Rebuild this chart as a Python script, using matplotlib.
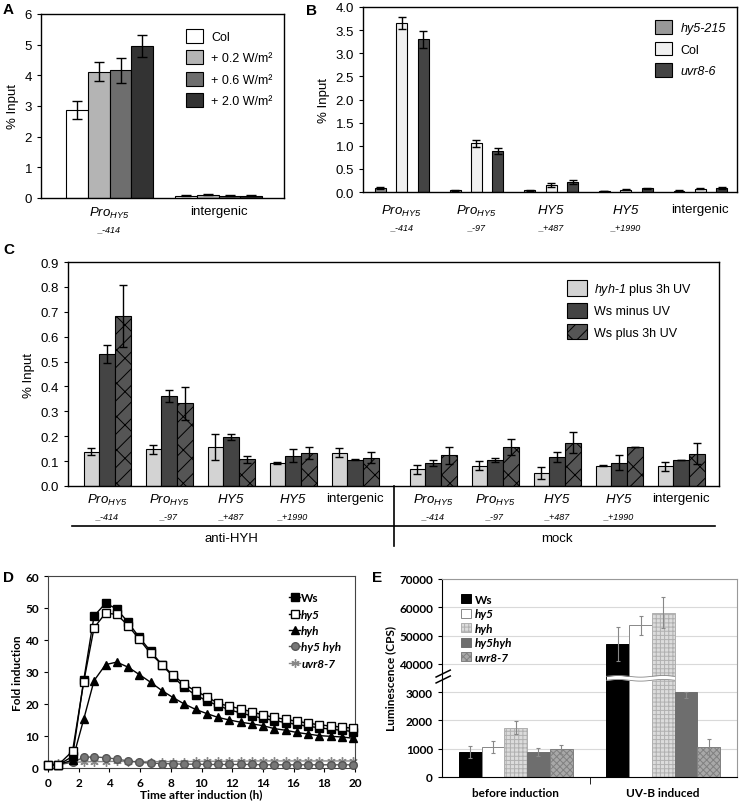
import matplotlib
matplotlib.use("Agg")
import matplotlib.pyplot as plt
import numpy as np

plt.rcParams["font.family"] = ["Liberation Sans", "DejaVu Sans"]
plt.rcParams["mathtext.fontset"] = "custom"
plt.rcParams["mathtext.rm"] = "Liberation Sans:italic"
plt.rcParams["mathtext.it"] = "Liberation Sans:italic"
plt.rcParams["mathtext.bf"] = "Liberation Sans:bold"
plt.rcParams["hatch.linewidth"] = 0.7

PRO = r"$\mathit{Pro}_{\mathit{HY5}}$"
HY5 = r"$\mathit{HY5}$"

# ── Panel A ──
a_sites = [PRO, "intergenic"]
a_subs = ["_-414", ""]
a_series = ["Col", "+ 0.2 W/m²", "+ 0.6 W/m²", "+ 2.0 W/m²"]
a_vals = [[2.87, 0.08], [4.12, 0.11], [4.16, 0.08], [4.95, 0.08]]
a_err = [[0.30, 0.01], [0.30, 0.015], [0.42, 0.012], [0.36, 0.012]]

# ── Panel B ──
b_sites = [PRO, PRO, HY5, HY5, "intergenic"]
b_subs = ["_-414", "_-97", "_+487", "_+1990", ""]
b_series = ["hy5-215", "Col", "uvr8-6"]
b_vals = [[0.09, 0.04, 0.035, 0.02, 0.03],
          [3.66, 1.05, 0.15, 0.05, 0.07],
          [3.30, 0.89, 0.21, 0.08, 0.085]]
b_err = [[0.02, 0.01, 0.015, 0.005, 0.005],
         [0.13, 0.07, 0.05, 0.01, 0.01],
         [0.18, 0.07, 0.04, 0.015, 0.015]]

# ── Panel C ──
c_sites = b_sites + b_sites
c_subs = b_subs + b_subs
c_groups = ["anti-HYH", "mock"]
c_series = [r"$\mathit{hyh}$-$\mathit{1}$ plus 3h UV", "Ws minus UV", "Ws plus 3h UV"]
c_vals = [[0.137, 0.148, 0.158, 0.092, 0.133, 0.067, 0.082, 0.051, 0.082, 0.080],
          [0.530, 0.362, 0.195, 0.122, 0.105, 0.091, 0.103, 0.118, 0.094, 0.103],
          [0.683, 0.333, 0.108, 0.133, 0.113, 0.123, 0.158, 0.174, 0.158, 0.130]]
c_err = [[0.014, 0.018, 0.052, 0.003, 0.018, 0.018, 0.017, 0.024, 0.002, 0.018],
         [0.036, 0.025, 0.012, 0.027, 0.002, 0.012, 0.008, 0.020, 0.030, 0.0],
         [0.123, 0.066, 0.014, 0.024, 0.022, 0.035, 0.032, 0.043, 0.0, 0.043]]

# ── Panel D ──
d_time = [0, 0.67, 1.6, 2.33, 3.0, 3.75, 4.48, 5.22, 5.95, 6.68, 7.42, 8.15, 8.88, 9.62,
          10.35, 11.08, 11.82, 12.55, 13.28, 14.02, 14.75, 15.48, 16.22, 16.95, 17.68,
          18.42, 19.15, 19.88]
d_ws = [1.0, 1.0, 3.6, 27.5, 47.5, 51.5, 49.7, 45.5, 40.8, 36.5, 32.3, 28.5, 25.2, 22.8,
        21.0, 19.5, 18.2, 17.2, 16.3, 15.5, 14.8, 14.2, 13.6, 13.0, 12.6, 12.1, 11.8, 11.4]
d_hy5 = [1.0, 1.0, 5.3, 27.0, 43.8, 48.4, 48.0, 44.5, 40.2, 35.8, 32.3, 29.0, 26.2, 24.0,
         22.3, 20.2, 19.3, 18.5, 17.5, 16.6, 15.8, 15.2, 14.6, 14.0, 13.5, 13.1, 12.8, 12.4]
d_hyh = [1.0, 1.0, 2.5, 15.3, 27.3, 32.3, 33.1, 31.5, 29.2, 26.8, 24.2, 22.0, 20.0, 18.3,
         17.0, 15.8, 15.0, 14.3, 13.8, 13.2, 12.3, 11.8, 11.1, 10.6, 10.1, 9.9, 9.7, 9.3]
d_hy5hyh = [1.0, 1.0, 1.8, 3.3, 3.5, 3.2, 2.8, 2.2, 1.8, 1.5, 1.4, 1.3, 1.2, 1.2,
            1.1, 1.1, 1.1, 1.1, 1.1, 1.0, 1.0, 1.0, 1.0, 1.0, 1.0, 1.0, 1.0, 1.0]
d_uvr8 = [1.0, 1.5, 1.8, 1.9, 2.0, 2.0, 2.1, 2.0, 2.0, 2.0, 2.0, 2.0, 2.0, 2.1,
          2.1, 2.1, 2.1, 2.1, 2.2, 2.2, 2.2, 2.2, 2.2, 2.2, 2.2, 2.2, 2.2, 2.2]

# ── Panel E ──
e_groups = ["before induction", "UV-B induced"]
e_series = ["Ws", "hy5", "hyh", "hy5hyh", "uvr8-7"]
e_vals = [[893, 47000], [1070, 53600], [1750, 58100], [880, 3030], [975, 1070]]
e_err = [[210, 6100], [210, 3300], [240, 5500], [130, 250], [170, 290]]
e_ticks = [0, 1000, 2000, 3000, 40000, 50000, 60000, 70000]

W, H = 740, 804
fig = plt.figure(figsize=(W / 100, H / 100), dpi=100)

FS = 9.5  # tick text in A-C
LF = 9    # legend text in A-C


def rect(x0, y0, x1, y1):
    return [x0 / W, 1 - y1 / H, (x1 - x0) / W, (y1 - y0) / H]


def site_labels(ax, xs, sites, subs, pad, sub_off):
    ax.set_xticks(xs, labels=sites)
    ax.tick_params(axis="x", length=0, pad=pad, labelsize=FS)
    for x, s in zip(xs, subs):
        if s:
            ax.annotate(s, xy=(x, 0), xycoords=ax.get_xaxis_transform(),
                        xytext=(0, sub_off), textcoords="offset points",
                        ha="center", va="center", fontsize=6.5, style="italic")


def box(ax):
    for s in ax.spines.values():
        s.set_linewidth(1.0)
    ax.tick_params(axis="y", direction="out", length=3, labelsize=FS)


# ── A ──
ax = fig.add_axes(rect(41, 15, 284, 199))
xa = np.arange(len(a_sites))
wa = 0.2
a_cols = ["#ffffff", "#b4b4b4", "#6e6e6e", "#333333"]
for i, name in enumerate(a_series):
    xx = xa + (i - 1.5) * wa
    ax.bar(xx, a_vals[i], wa, color=a_cols[i], edgecolor="black", lw=0.8, label=name)
    ax.errorbar(xx, a_vals[i], yerr=a_err[i], fmt="none", ecolor="black",
                elinewidth=1, capsize=3.5, capthick=1)
ax.set_xlim(-0.63, 1.6)
ax.set_ylim(0, 6)
ax.set_yticks(range(7))
ax.set_ylabel("% Input", fontsize=FS)
box(ax)
site_labels(ax, xa, a_sites, a_subs, 5, -22)
ax.legend(loc="upper right", frameon=False, fontsize=LF, handlelength=1.3,
          handleheight=1.3, labelspacing=0.6, handletextpad=0.7,
          bbox_to_anchor=(1.0, 0.98))

# ── B ──
ax = fig.add_axes(rect(363, 8, 737, 193))
xb = np.arange(len(b_sites))
b_cols = ["#999999", "#f0f0f0", "#444444"]
for i, name in enumerate(b_series):
    xx = xb + (i - 1) * 0.287
    ax.bar(xx, b_vals[i], 0.147, color=b_cols[i], edgecolor="black", lw=0.8, label=name)
    ax.errorbar(xx, b_vals[i], yerr=b_err[i], fmt="none", ecolor="black",
                elinewidth=1, capsize=3, capthick=1)
ax.set_xlim(-0.52, 4.49)
ax.set_ylim(0, 4.0)
ax.set_yticks(np.arange(0, 4.01, 0.5))
ax.yaxis.set_major_formatter(matplotlib.ticker.FormatStrFormatter("%.1f"))
ax.set_ylabel("% Input", fontsize=FS)
box(ax)
site_labels(ax, xb, b_sites, b_subs, 8, -25)
leg = ax.legend(loc="upper right", frameon=False, fontsize=LF, handlelength=1.3,
                handleheight=1.3, labelspacing=0.6, handletextpad=0.7,
                bbox_to_anchor=(1.0, 0.99))
leg.get_texts()[0].set_style("italic")
leg.get_texts()[2].set_style("italic")

# ── C ──
ax = fig.add_axes(rect(68, 263, 719, 487))
xc = np.concatenate([np.arange(5), np.arange(5) + 5.26])
wc = 0.253
c_cols = ["#d3d3d3", "#444444", "#555555"]
c_hatch = [None, None, "//\\"]
for i, name in enumerate(c_series):
    xx = xc + (i - 1) * wc
    ax.bar(xx, c_vals[i], wc, color=c_cols[i], edgecolor="black", lw=0.8,
           hatch=c_hatch[i], label=name)
    ax.errorbar(xx, c_vals[i], yerr=c_err[i], fmt="none", ecolor="black",
                elinewidth=1, capsize=3, capthick=1)
ax.set_xlim(-0.63, 9.87)
ax.set_ylim(0, 0.9)
ax.set_yticks(np.arange(0, 0.91, 0.1))
ax.yaxis.set_major_formatter(matplotlib.ticker.FormatStrFormatter("%.1f"))
ax.set_ylabel("% Input", fontsize=FS)
box(ax)
site_labels(ax, xc, c_sites, c_subs, 4, -21.5)
leg = ax.legend(loc="upper right", frameon=False, fontsize=LF, handlelength=1.6,
                handleheight=1.55, labelspacing=0.45, handletextpad=0.5,
                bbox_to_anchor=(0.975, 0.97))
trans = ax.get_xaxis_transform()
sep = (xc[4] + xc[5]) / 2
ax.plot([-0.565, 9.81], [-0.179, -0.179], color="black", lw=1.2,
        transform=trans, clip_on=False)
ax.plot([sep, sep], [0, -0.268], color="black", lw=1.2, transform=trans, clip_on=False)
ax.text(np.mean(xc[:5]), -0.232, c_groups[0], transform=trans, ha="center",
        va="center", fontsize=FS)
ax.text(np.mean(xc[5:]), -0.232, c_groups[1], transform=trans, ha="center",
        va="center", fontsize=FS)

# ── D ──
bold = {"family": ["Lato", "DejaVu Sans"], "weight": "bold"}
BF = 8.5
ax = fig.add_axes(rect(48, 577, 355, 769))
ax.plot(d_time, d_uvr8, color="#888888", lw=1, marker=(6, 2, 0), ms=6,
        mec="#888888", label="uvr8-7", clip_on=False, zorder=2)
ax.plot(d_time, d_hy5hyh, color="#555555", lw=1, marker="o", ms=5.5,
        mfc="#777777", mec="#555555", label="hy5 hyh", clip_on=False, zorder=3)
ax.plot(d_time, d_hyh, color="black", lw=1, marker="^", ms=5.5,
        label="hyh", clip_on=False, zorder=4)
ax.plot(d_time, d_ws, color="black", lw=1, marker="s", ms=5.5,
        label="Ws", clip_on=False, zorder=5)
ax.plot(d_time, d_hy5, color="black", lw=1, marker="s", ms=6,
        mfc="white", mec="black", label="hy5", clip_on=False, zorder=6)
ax.set_xlim(0, 20)
ax.set_ylim(0, 60)
ax.set_xticks(range(0, 21, 2))
ax.set_yticks(range(0, 61, 10))
ax.tick_params(direction="out", length=3)
for t in ax.get_xticklabels() + ax.get_yticklabels():
    t.set_fontproperties(matplotlib.font_manager.FontProperties(size=BF, **bold))
ax.set_xlabel("Time after induction (h)", fontsize=BF, labelpad=0, **bold)
ax.set_ylabel("Fold induction", fontsize=BF, labelpad=2, **bold)
for s in ax.spines.values():
    s.set_color("#444444")
h, l = ax.get_legend_handles_labels()
order = [3, 4, 2, 1, 0]
leg = ax.legend([h[k] for k in order], [l[k] for k in order], loc="upper right",
                frameon=False, handlelength=0.9, handletextpad=0.1, labelspacing=0.45,
                prop=matplotlib.font_manager.FontProperties(size=BF, **bold),
                bbox_to_anchor=(0.99, 0.97))
for t in leg.get_texts()[1:]:
    t.set_style("italic")


# ── E ──
def fwd(v):
    v = np.asarray(v, float)
    return np.where(v <= 3000, v / 1000,
                    np.where(v < 40000, 3 + (v - 3000) / 37000, 4 + (v - 40000) / 10000))


def inv(t):
    t = np.asarray(t, float)
    return np.where(t <= 3, t * 1000,
                    np.where(t < 4, 3000 + (t - 3) * 37000, 40000 + (t - 4) * 10000))


ax = fig.add_axes(rect(442, 580, 737, 778))
ax.set_yscale("function", functions=(fwd, inv))
xe = np.arange(len(e_groups))
we = 0.154
e_face = ["black", "white", "#dcdcdc", "#6e6e6e", "#a8a8a8"]
e_edge = ["black", "#888888", "#b0b0b0", "#6e6e6e", "#808080"]
e_hatch = [None, None, "++++", None, "xxxxx"]
for i, name in enumerate(e_series):
    xx = xe + (i - 2) * we
    ax.bar(xx, e_vals[i], we, color=e_face[i], edgecolor=e_edge[i], lw=0.7,
           hatch=e_hatch[i], label=name, zorder=2)
    ax.errorbar(xx, e_vals[i], yerr=e_err[i], fmt="none", ecolor="#888888",
                elinewidth=0.8, capsize=1.5, capthick=0.8, zorder=3)
# axis break band across the tall bars
xs = np.linspace(xe[1] - 2.5 * we, xe[1] + 0.5 * we, 80)
wave = 0.03 * np.sin((xs - xs[0]) / (xs[-1] - xs[0]) * 2 * np.pi * 1.5)
lo, hi = inv(3.42 + wave), inv(3.56 + wave)
ax.fill_between(xs, lo, hi, color="white", zorder=4, lw=0)
ax.plot(xs, lo, color="#888888", lw=0.6, zorder=5)
ax.plot(xs, hi, color="#888888", lw=0.6, zorder=5)
for dy in (0.0, 0.03):
    ax.plot([-0.02, 0.028], [0.475 + dy, 0.51 + dy], color="black", lw=1.1,
            transform=ax.transAxes, clip_on=False, zorder=6)
ax.set_xlim(-0.5, 1.5)
ax.set_ylim(0, 70000)
ax.set_yticks(e_ticks)
ax.set_yticklabels([str(t) for t in e_ticks])
ax.grid(axis="y", color="#d9d9d9", lw=0.8, zorder=0)
ax.set_axisbelow(True)
ax.set_xticks(xe, labels=e_groups)
ax.set_xticks([0.5], minor=True)
ax.tick_params(axis="x", which="major", length=0, pad=7)
ax.tick_params(axis="x", which="minor", length=5, direction="out")
ax.tick_params(axis="y", direction="out", length=3)
for t in ax.get_xticklabels() + ax.get_yticklabels():
    t.set_fontproperties(matplotlib.font_manager.FontProperties(size=BF, **bold))
ax.set_ylabel("Luminescence (CPS)", fontsize=BF, labelpad=2, **bold)
ax.spines["top"].set_color("#999999")
ax.spines["right"].set_color("#999999")
leg = ax.legend(loc="upper left", frameon=False, handlelength=0.8, handleheight=0.8,
                handletextpad=0.3, labelspacing=0.3,
                prop=matplotlib.font_manager.FontProperties(size=BF, **bold),
                bbox_to_anchor=(0.03, 0.98))
for t in leg.get_texts()[1:]:
    t.set_style("italic")

# panel letters
for lab, x, y in [("A", 3, 3), ("B", 306, 4), ("C", 3, 243), ("D", 3, 571), ("E", 372, 571)]:
    fig.text(x / W, 1 - y / H, lab, fontsize=11, fontweight="bold", va="top", ha="left")

fig.savefig("out.png", dpi=100)
